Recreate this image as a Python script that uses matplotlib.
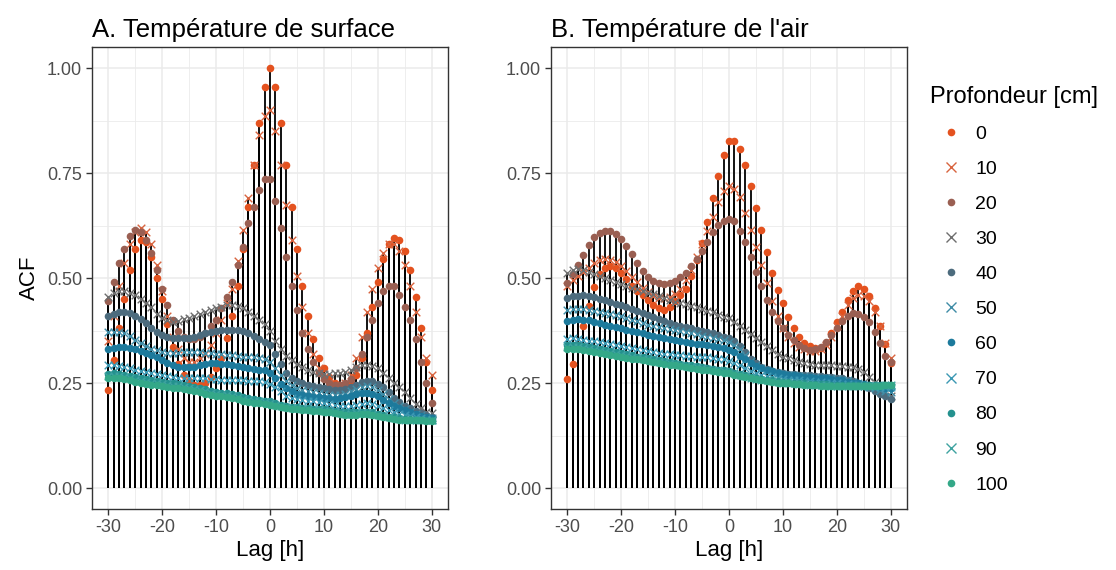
import numpy as np
import matplotlib
matplotlib.use("Agg")
import matplotlib.pyplot as plt
from matplotlib.lines import Line2D
from matplotlib.ticker import MultipleLocator, FormatStrFormatter

plt.rcParams['font.family'] = ['Liberation Sans', 'DejaVu Sans']
plt.rcParams['axes.unicode_minus'] = False

lags = np.arange(-30, 31)
depths = [0, 10, 20, 30, 40, 50, 60, 70, 80, 90, 100]
colors = ['#e4521f', '#d8643f', '#9a5f52', '#6e6e6e', '#4c6b7d', '#3f8ca6',
          '#1d7a9c', '#3b98b3', '#24918e', '#3ea3a0', '#34a888']
markers = ['o', 'x', 'o', 'x', 'o', 'x', 'o', 'x', 'o', 'x', 'o']

# A. surface temperature, lags -30 .. 30
surf_0 = [0.233, 0.305, 0.38, 0.45, 0.52, 0.57, 0.59, 0.585, 0.55, 0.50, 0.45, 0.39, 0.335, 0.295, 0.27,
          0.255, 0.245, 0.245, 0.25, 0.265, 0.285, 0.31, 0.357, 0.41, 0.48, 0.57, 0.67, 0.77, 0.87, 0.955,
          1.0,
          0.955, 0.87, 0.77, 0.67, 0.57, 0.48, 0.41, 0.355, 0.31, 0.285, 0.265, 0.25, 0.245, 0.245, 0.25,
          0.27, 0.31, 0.37, 0.43, 0.49, 0.545, 0.58, 0.595, 0.59, 0.565, 0.52, 0.455, 0.38, 0.30, 0.233]
surf_10 = [0.35, 0.41, 0.48, 0.535, 0.58, 0.61, 0.62, 0.61, 0.58, 0.53, 0.47, 0.41, 0.36, 0.33, 0.31,
           0.30, 0.30, 0.31, 0.32, 0.34, 0.37, 0.40, 0.44, 0.475, 0.54, 0.615, 0.69, 0.77, 0.84, 0.885,
           0.90,
           0.85, 0.77, 0.675, 0.59, 0.505, 0.43, 0.37, 0.32, 0.285, 0.265, 0.25, 0.245, 0.245, 0.25, 0.27,
           0.31, 0.36, 0.42, 0.475, 0.525, 0.56, 0.58, 0.58, 0.565, 0.53, 0.48, 0.42, 0.36, 0.31, 0.27]
surf_20 = [0.445, 0.49, 0.535, 0.57, 0.60, 0.615, 0.61, 0.59, 0.56, 0.52, 0.475, 0.435, 0.40, 0.375, 0.36,
           0.355, 0.355, 0.36, 0.37, 0.385, 0.40, 0.428, 0.455, 0.49, 0.53, 0.575, 0.63, 0.67, 0.71, 0.735,
           0.735,
           0.684, 0.62, 0.55, 0.48, 0.425, 0.37, 0.33, 0.30, 0.275, 0.26, 0.25, 0.245, 0.245, 0.25, 0.26,
           0.285, 0.32, 0.36, 0.40, 0.44, 0.47, 0.48, 0.48, 0.46, 0.43, 0.40, 0.355, 0.30, 0.25, 0.203]
surf_30 = [0.455, 0.465, 0.47, 0.47, 0.465, 0.46, 0.45, 0.44, 0.43, 0.415, 0.405, 0.40, 0.396, 0.398, 0.402,
           0.405, 0.41, 0.415, 0.42, 0.425, 0.428, 0.432, 0.435, 0.436, 0.433, 0.428, 0.42, 0.41, 0.40, 0.39,
           0.375,
           0.35, 0.33, 0.315, 0.305, 0.295, 0.287, 0.28, 0.276, 0.273, 0.272, 0.272, 0.273, 0.274, 0.277, 0.282,
           0.288, 0.292, 0.293, 0.29, 0.285, 0.275, 0.262, 0.25, 0.24, 0.228, 0.215, 0.2, 0.19, 0.182, 0.178]
surf_40 = [0.41, 0.415, 0.42, 0.42, 0.417, 0.41, 0.403, 0.393, 0.382, 0.372, 0.365, 0.36, 0.357, 0.356, 0.356,
           0.357, 0.36, 0.364, 0.369, 0.372, 0.375, 0.376, 0.377, 0.377, 0.376, 0.373, 0.368, 0.362, 0.355, 0.348,
           0.34,
           0.318, 0.295, 0.275, 0.262, 0.255, 0.25, 0.245, 0.242, 0.24, 0.238, 0.236, 0.234, 0.234, 0.236, 0.24,
           0.246, 0.252, 0.255, 0.254, 0.248, 0.24, 0.228, 0.215, 0.205, 0.196, 0.19, 0.184, 0.178, 0.173, 0.17]
surf_50 = [0.372, 0.372, 0.371, 0.369, 0.362, 0.353, 0.345, 0.338, 0.332, 0.328, 0.325, 0.322, 0.321, 0.322, 0.324,
           0.325, 0.325, 0.324, 0.322, 0.321, 0.32, 0.318, 0.317, 0.316, 0.314, 0.313, 0.312, 0.311, 0.31, 0.307,
           0.30,
           0.285, 0.268, 0.255, 0.245, 0.238, 0.233, 0.23, 0.228, 0.226, 0.224, 0.222, 0.221, 0.222, 0.225, 0.23,
           0.236, 0.241, 0.243, 0.24, 0.233, 0.224, 0.213, 0.203, 0.195, 0.188, 0.182, 0.177, 0.173, 0.17, 0.167]
surf_60 = [0.332, 0.334, 0.335, 0.335, 0.333, 0.33, 0.327, 0.322, 0.317, 0.312, 0.305, 0.298, 0.292, 0.289, 0.288,
           0.288, 0.289, 0.292, 0.295, 0.297, 0.297, 0.296, 0.295, 0.293, 0.29, 0.288, 0.286, 0.284, 0.282, 0.28,
           0.275,
           0.262, 0.248, 0.237, 0.23, 0.225, 0.221, 0.218, 0.217, 0.216, 0.215, 0.214, 0.213, 0.214, 0.216, 0.22,
           0.224, 0.227, 0.227, 0.224, 0.218, 0.21, 0.202, 0.195, 0.19, 0.185, 0.18, 0.176, 0.172, 0.169, 0.166]
surf_70 = [0.292, 0.292, 0.29, 0.288, 0.285, 0.281, 0.278, 0.276, 0.274, 0.272, 0.27, 0.267, 0.265, 0.263, 0.262,
           0.262, 0.262, 0.262, 0.261, 0.26, 0.259, 0.258, 0.257, 0.257, 0.256, 0.256, 0.255, 0.255, 0.254, 0.252,
           0.248,
           0.24, 0.23, 0.22, 0.215, 0.212, 0.21, 0.208, 0.206, 0.204, 0.202, 0.2, 0.198, 0.196, 0.195, 0.196,
           0.198, 0.201, 0.202, 0.2, 0.196, 0.19, 0.185, 0.18, 0.177, 0.174, 0.171, 0.168, 0.166, 0.164, 0.162]
surf_80 = [0.272, 0.273, 0.272, 0.27, 0.267, 0.264, 0.261, 0.259, 0.257, 0.255, 0.253, 0.251, 0.249, 0.247, 0.245,
           0.243, 0.241, 0.238, 0.235, 0.232, 0.229, 0.227, 0.226, 0.224, 0.221, 0.217, 0.214, 0.212, 0.21, 0.208,
           0.206,
           0.202, 0.198, 0.195, 0.194, 0.193, 0.191, 0.19, 0.189, 0.188, 0.187, 0.185, 0.183, 0.181, 0.18, 0.18,
           0.181, 0.182, 0.182, 0.18, 0.177, 0.173, 0.17, 0.168, 0.166, 0.165, 0.164, 0.163, 0.163, 0.162, 0.162]
surf_90 = [0.267, 0.267, 0.266, 0.264, 0.261, 0.258, 0.255, 0.253, 0.251, 0.25, 0.248, 0.246, 0.244, 0.242, 0.24,
           0.238, 0.236, 0.233, 0.23, 0.227, 0.224, 0.222, 0.221, 0.219, 0.216, 0.212, 0.209, 0.207, 0.206, 0.204,
           0.202,
           0.198, 0.195, 0.192, 0.191, 0.19, 0.188, 0.187, 0.186, 0.185, 0.184, 0.182, 0.18, 0.178, 0.177, 0.177,
           0.178, 0.179, 0.179, 0.177, 0.174, 0.171, 0.168, 0.166, 0.164, 0.163, 0.163, 0.162, 0.162, 0.161, 0.161]
surf_100 = [0.262, 0.262, 0.261, 0.259, 0.256, 0.253, 0.25, 0.248, 0.246, 0.245, 0.243, 0.241, 0.239, 0.237, 0.235,
            0.233, 0.231, 0.228, 0.225, 0.222, 0.22, 0.218, 0.217, 0.215, 0.212, 0.208, 0.205, 0.203, 0.202, 0.2,
            0.198,
            0.195, 0.192, 0.19, 0.189, 0.188, 0.186, 0.185, 0.184, 0.183, 0.182, 0.18, 0.178, 0.176, 0.175, 0.175,
            0.175, 0.176, 0.176, 0.175, 0.172, 0.169, 0.166, 0.164, 0.163, 0.162, 0.162, 0.161, 0.161, 0.16, 0.16]

# B. air temperature, lags -30 .. 30
air_0 = [0.259, 0.295, 0.34, 0.386, 0.433, 0.478, 0.51, 0.525, 0.528, 0.524, 0.512, 0.497, 0.482, 0.47, 0.46,
         0.448, 0.436, 0.428, 0.424, 0.43, 0.445, 0.46, 0.475, 0.505, 0.543, 0.584, 0.634, 0.69, 0.743, 0.793,
         0.826,
         0.826, 0.807, 0.768, 0.72, 0.667, 0.614, 0.562, 0.513, 0.471, 0.44, 0.408, 0.38, 0.36, 0.345, 0.337,
         0.333, 0.333, 0.345, 0.37, 0.395, 0.42, 0.448, 0.47, 0.481, 0.475, 0.456, 0.428, 0.386, 0.343, 0.297]
air_10 = [0.48, 0.495, 0.505, 0.515, 0.525, 0.535, 0.542, 0.545, 0.543, 0.537, 0.528, 0.516, 0.503, 0.49, 0.477,
          0.466, 0.458, 0.453, 0.452, 0.455, 0.462, 0.475, 0.495, 0.52, 0.55, 0.58, 0.611, 0.645, 0.682, 0.708,
          0.718,
          0.712, 0.694, 0.654, 0.614, 0.575, 0.531, 0.487, 0.445, 0.41, 0.38, 0.36, 0.345, 0.335, 0.33, 0.327,
          0.327, 0.33, 0.34, 0.36, 0.385, 0.41, 0.435, 0.452, 0.46, 0.457, 0.445, 0.42, 0.385, 0.345, 0.31]
air_20 = [0.489, 0.51, 0.53, 0.555, 0.578, 0.598, 0.608, 0.612, 0.612, 0.605, 0.594, 0.577, 0.557, 0.535, 0.517,
          0.503, 0.493, 0.487, 0.485, 0.487, 0.493, 0.502, 0.513, 0.528, 0.545, 0.564, 0.585, 0.61, 0.627, 0.636,
          0.64,
          0.635, 0.612, 0.585, 0.55, 0.515, 0.48, 0.448, 0.42, 0.398, 0.38, 0.365, 0.352, 0.34, 0.333, 0.329,
          0.33, 0.335, 0.348, 0.365, 0.382, 0.398, 0.41, 0.416, 0.415, 0.408, 0.396, 0.372, 0.345, 0.315, 0.30]
air_30 = [0.513, 0.518, 0.522, 0.52, 0.515, 0.51, 0.505, 0.5, 0.495, 0.49, 0.486, 0.481, 0.477, 0.473, 0.469,
          0.465, 0.461, 0.456, 0.452, 0.447, 0.443, 0.44, 0.437, 0.434, 0.431, 0.427, 0.422, 0.418, 0.413, 0.408,
          0.404,
          0.395, 0.386, 0.376, 0.366, 0.357, 0.348, 0.338, 0.328, 0.318, 0.313, 0.309, 0.305, 0.3, 0.297, 0.295,
          0.294, 0.293, 0.293, 0.292, 0.291, 0.29, 0.289, 0.287, 0.284, 0.276, 0.265, 0.252, 0.24, 0.228, 0.218]
air_40 = [0.453, 0.456, 0.458, 0.459, 0.458, 0.455, 0.451, 0.447, 0.443, 0.439, 0.435, 0.43, 0.426, 0.421, 0.416,
          0.412, 0.407, 0.402, 0.397, 0.393, 0.389, 0.386, 0.383, 0.38, 0.377, 0.374, 0.371, 0.368, 0.364, 0.36,
          0.356,
          0.349, 0.338, 0.323, 0.308, 0.297, 0.289, 0.283, 0.279, 0.276, 0.274, 0.272, 0.271, 0.27, 0.269, 0.268,
          0.267, 0.266, 0.265, 0.264, 0.263, 0.261, 0.258, 0.254, 0.249, 0.243, 0.237, 0.23, 0.224, 0.218, 0.212]
air_50 = [0.425, 0.426, 0.427, 0.426, 0.424, 0.421, 0.419, 0.416, 0.414, 0.412, 0.409, 0.405, 0.401, 0.397, 0.393,
          0.389, 0.386, 0.383, 0.38, 0.378, 0.376, 0.374, 0.372, 0.369, 0.366, 0.363, 0.36, 0.357, 0.355, 0.352,
          0.348,
          0.34, 0.33, 0.317, 0.303, 0.292, 0.285, 0.28, 0.276, 0.273, 0.271, 0.269, 0.268, 0.267, 0.266, 0.265,
          0.264, 0.263, 0.262, 0.261, 0.26, 0.258, 0.256, 0.253, 0.249, 0.245, 0.241, 0.237, 0.233, 0.23, 0.228]
air_60 = [0.398, 0.401, 0.402, 0.401, 0.399, 0.396, 0.393, 0.389, 0.386, 0.383, 0.38, 0.377, 0.374, 0.371, 0.368,
          0.365, 0.362, 0.359, 0.356, 0.354, 0.352, 0.35, 0.348, 0.346, 0.344, 0.342, 0.34, 0.338, 0.336, 0.333,
          0.329,
          0.323, 0.315, 0.306, 0.298, 0.291, 0.286, 0.282, 0.278, 0.275, 0.272, 0.27, 0.268, 0.266, 0.265, 0.264,
          0.263, 0.262, 0.261, 0.26, 0.258, 0.256, 0.253, 0.251, 0.249, 0.247, 0.245, 0.243, 0.241, 0.239, 0.237]
air_70 = [0.355, 0.356, 0.355, 0.353, 0.351, 0.349, 0.347, 0.345, 0.343, 0.34, 0.338, 0.335, 0.333, 0.331, 0.328,
          0.326, 0.324, 0.322, 0.32, 0.319, 0.317, 0.316, 0.315, 0.314, 0.313, 0.312, 0.311, 0.31, 0.308, 0.306,
          0.303,
          0.298, 0.292, 0.285, 0.279, 0.274, 0.27, 0.267, 0.264, 0.262, 0.26, 0.258, 0.257, 0.256, 0.255, 0.254,
          0.253, 0.252, 0.251, 0.25, 0.249, 0.248, 0.247, 0.246, 0.245, 0.244, 0.243, 0.242, 0.241, 0.24, 0.24]
air_80 = [0.34, 0.341, 0.34, 0.338, 0.336, 0.334, 0.332, 0.329, 0.326, 0.324, 0.321, 0.318, 0.316, 0.313, 0.311,
          0.309, 0.306, 0.304, 0.302, 0.3, 0.298, 0.296, 0.294, 0.292, 0.29, 0.288, 0.286, 0.284, 0.282, 0.28,
          0.278,
          0.275, 0.271, 0.268, 0.265, 0.262, 0.26, 0.258, 0.256, 0.254, 0.253, 0.252, 0.251, 0.25, 0.249, 0.248,
          0.248, 0.247, 0.247, 0.246, 0.246, 0.245, 0.245, 0.245, 0.245, 0.245, 0.245, 0.245, 0.245, 0.246, 0.246]
air_90 = [0.335, 0.336, 0.335, 0.333, 0.331, 0.329, 0.327, 0.325, 0.322, 0.32, 0.317, 0.314, 0.312, 0.31, 0.308,
          0.306, 0.303, 0.301, 0.299, 0.297, 0.295, 0.293, 0.291, 0.289, 0.287, 0.285, 0.283, 0.281, 0.28, 0.278,
          0.276,
          0.273, 0.269, 0.266, 0.263, 0.26, 0.258, 0.256, 0.254, 0.252, 0.251, 0.25, 0.249, 0.248, 0.247, 0.246,
          0.246, 0.245, 0.245, 0.244, 0.244, 0.243, 0.243, 0.243, 0.243, 0.244, 0.244, 0.244, 0.245, 0.245, 0.245]
air_100 = [0.33, 0.331, 0.33, 0.328, 0.326, 0.324, 0.322, 0.32, 0.317, 0.315, 0.313, 0.31, 0.308, 0.306, 0.304,
           0.302, 0.3, 0.298, 0.296, 0.294, 0.292, 0.29, 0.288, 0.286, 0.284, 0.282, 0.28, 0.278, 0.277, 0.275,
           0.273,
           0.27, 0.267, 0.264, 0.261, 0.259, 0.257, 0.255, 0.253, 0.251, 0.25, 0.249, 0.248, 0.247, 0.246, 0.245,
           0.245, 0.244, 0.244, 0.243, 0.243, 0.242, 0.242, 0.242, 0.242, 0.243, 0.243, 0.244, 0.244, 0.245, 0.245]

surface = [surf_0, surf_10, surf_20, surf_30, surf_40, surf_50, surf_60, surf_70, surf_80, surf_90, surf_100]
air = [air_0, air_10, air_20, air_30, air_40, air_50, air_60, air_70, air_80, air_90, air_100]

fig = plt.figure(figsize=(11.16, 5.70), dpi=100)
axA = fig.add_axes([0.0824, 0.107, 0.319, 0.8105])
axB = fig.add_axes([0.4937, 0.107, 0.319, 0.8105])


def draw(ax, series, title):
    # stems first, points on top
    for vals in series:
        ax.vlines(lags, 0, vals, color='black', lw=1.3, zorder=2)
    for vals, c, m in zip(series, colors, markers):
        if m == 'o':
            ax.scatter(lags, vals, s=30, color=c, marker='o', linewidths=0, zorder=3)
        else:
            ax.scatter(lags, vals, s=30, color=c, marker='x', linewidths=1.0, zorder=3)

    ax.set_xlim(-33, 33)
    ax.set_ylim(-0.05, 1.05)
    ax.xaxis.set_major_locator(MultipleLocator(10))
    ax.xaxis.set_minor_locator(MultipleLocator(5))
    ax.yaxis.set_major_locator(MultipleLocator(0.25))
    ax.yaxis.set_minor_locator(MultipleLocator(0.125))
    ax.yaxis.set_major_formatter(FormatStrFormatter('%.2f'))
    ax.grid(which='major', color='#ebebeb', lw=1.1, zorder=0)
    ax.grid(which='minor', color='#ebebeb', lw=0.6, zorder=0)
    ax.set_axisbelow(True)
    ax.tick_params(which='major', length=4, width=1, color='#333333',
                   labelsize=13, labelcolor='#4d4d4d', pad=3)
    ax.tick_params(which='minor', length=0)
    for sp in ax.spines.values():
        sp.set_color('#333333')
        sp.set_linewidth(1.0)
    ax.set_xlabel('Lag [h]', fontsize=16, labelpad=3)
    ax.set_title(title, loc='left', fontsize=18.5, pad=7)


draw(axA, surface, 'A. Température de surface')
draw(axB, air, "B. Température de l'air")
axA.set_ylabel('ACF', fontsize=16, labelpad=5)

handles = []
for d, c, m in zip(depths, colors, markers):
    if m == 'o':
        h = Line2D([], [], ls='none', marker='o', color=c, markersize=5.5, markeredgewidth=0)
    else:
        h = Line2D([], [], ls='none', marker='x', color=c, markersize=6.5, markeredgewidth=1.0)
    handles.append(h)

leg = fig.legend(handles, [str(d) for d in depths], title='Profondeur [cm]',
                 loc='upper left', bbox_to_anchor=(0.833, 0.85), frameon=False,
                 fontsize=14, title_fontsize=17, labelspacing=0.9,
                 handletextpad=0.15, handlelength=2.2, borderaxespad=0, borderpad=0)
leg._legend_box.align = 'left'

fig.savefig('out.png', dpi=100)
